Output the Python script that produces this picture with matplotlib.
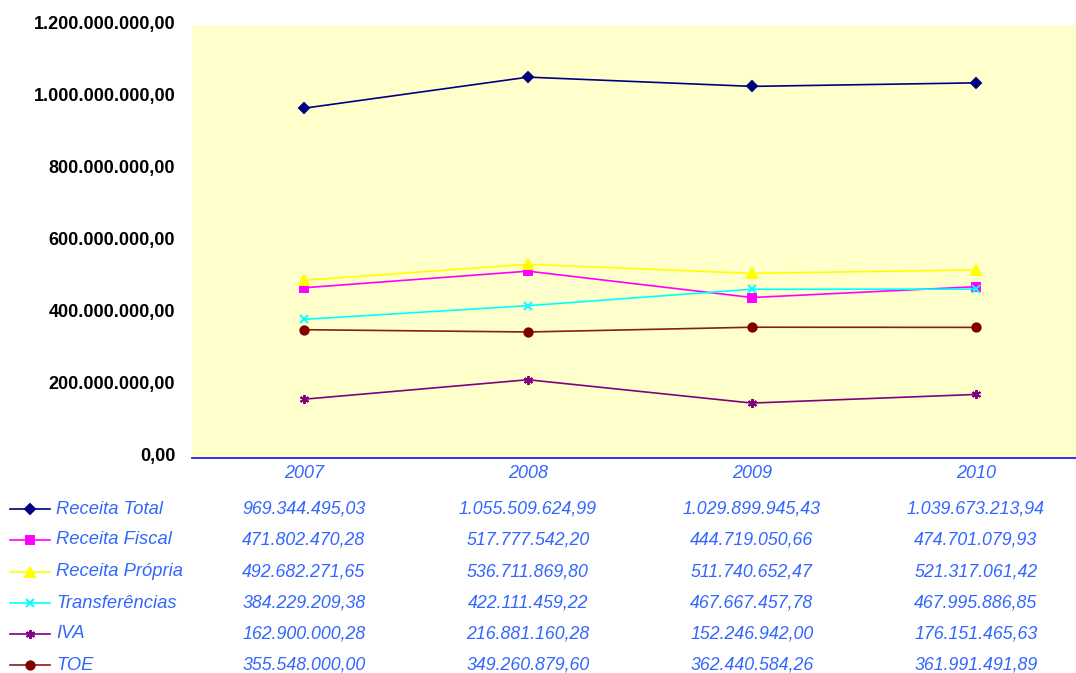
import matplotlib
matplotlib.use("Agg")
import matplotlib.pyplot as plt
from matplotlib.lines import Line2D
from matplotlib.ticker import FuncFormatter, MultipleLocator
import matplotlib.transforms as mtransforms

# ---- data ----
years = ["2007", "2008", "2009", "2010"]
series_names = ["Receita Total", "Receita Fiscal", "Receita Própria",
                "Transferências", "IVA", "TOE"]
receita_total = [969344495.03, 1055509624.99, 1029899945.43, 1039673213.94]
receita_fiscal = [471802470.28, 517777542.20, 444719050.66, 474701079.93]
receita_propria = [492682271.65, 536711869.80, 511740652.47, 521317061.42]
transferencias = [384229209.38, 422111459.22, 467667457.78, 467995886.85]
iva = [162900000.28, 216881160.28, 152246942.00, 176151465.63]
toe = [355548000.00, 349260879.60, 362440584.26, 361991491.89]
series_values = [receita_total, receita_fiscal, receita_propria,
                 transferencias, iva, toe]

# ---- styles ----
colors = ["#000080", "#FF00FF", "#FFFF00", "#00FFFF", "#800080", "#800000"]
line_colors = ["#000080", "#FF00FF", "#FFFF00", "#00FFFF", "#800080", "#8B1A1A"]
markers = ["D", "s", "^", "x", (6, 2, 0), "o"]
msizes = [5, 5.5, 7, 6, 6.5, 6]
text_blue = "#3366FF"
font = "Liberation Sans"


def fmt_pt(v, pos=None):
    s = f"{v:,.2f}"
    return s.replace(",", "#").replace(".", ",").replace("#", ".")


W, H = 1076, 673
fig = plt.figure(figsize=(W / 100, H / 100), dpi=100)
fig.patch.set_facecolor("white")

left, right, top, bottom = 192, 1088, 25, 458
ax = fig.add_axes([left / W, 1 - bottom / H, (right - left) / W, (bottom - top) / H])
ax.set_facecolor("#FFFFCC")
xs = list(range(len(years)))

for vals, c, lc, m, ms in zip(series_values, colors, line_colors, markers, msizes):
    ax.plot(xs, vals, color=lc, lw=1.2, marker=m, markersize=ms,
            markerfacecolor=c, markeredgecolor=c, markeredgewidth=1.4,
            clip_on=False, zorder=3)

ax.set_xlim(-0.5, len(years) - 0.5)
ax.set_ylim(0, 1.2e9)
ax.yaxis.set_major_locator(MultipleLocator(2e8))
ax.yaxis.set_major_formatter(FuncFormatter(fmt_pt))
ax.set_xticks(xs)
ax.set_xticklabels(years)

for sp in ["top", "right", "left"]:
    ax.spines[sp].set_visible(False)
ax.spines["bottom"].set_color("#2222EE")
ax.spines["bottom"].set_linewidth(1.3)

ax.tick_params(axis="y", length=0, pad=12, labelsize=13)
ax.tick_params(axis="x", length=0, pad=5, labelsize=13, labelcolor=text_blue)
for lab in ax.get_yticklabels():
    lab.set_fontfamily(font)
    lab.set_fontweight("bold")
    lab.set_color("black")
    lab.set_transform(lab.get_transform() +
                      mtransforms.ScaledTranslation(0, 3 / 100, fig.dpi_scale_trans))
for lab in ax.get_xticklabels():
    lab.set_fontfamily(font)
    lab.set_fontstyle("italic")

# ---- data table ----
row_y = [509, 540, 572, 603, 634, 665]
trans = mtransforms.blended_transform_factory(ax.transData, fig.transFigure)
for name, vals, c, lc, m, ms, ry in zip(series_names, series_values, colors,
                                         line_colors, markers, msizes, row_y):
    yf = 1 - ry / H
    fig.add_artist(Line2D([10 / W, 30 / W, 50 / W], [yf, yf, yf],
                          transform=fig.transFigure, color=lc, lw=1.2,
                          marker=m, markersize=ms, markevery=[1],
                          markerfacecolor=c, markeredgecolor=c,
                          markeredgewidth=1.4))
    fig.text(56 / W, yf, name, transform=fig.transFigure, ha="left", va="center",
             fontsize=13.2, fontstyle="italic", color=text_blue, family=font)
    for x, v in zip(xs, vals):
        ax.text(x, yf, fmt_pt(v), transform=trans, ha="center", va="center",
                fontsize=12.8, fontstyle="italic", color=text_blue, family=font,
                clip_on=False)

fig.savefig("out.png", dpi=100)
